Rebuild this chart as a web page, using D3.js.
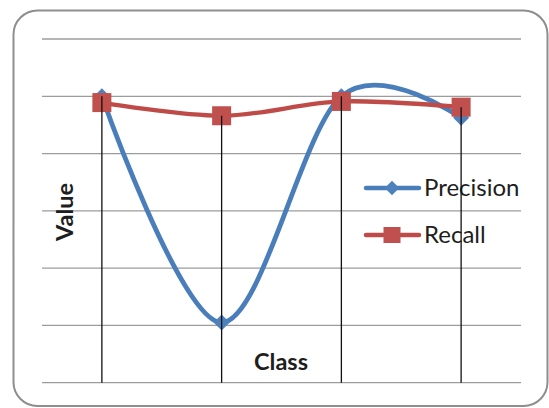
<!DOCTYPE html>
<html>
<head>
<meta charset="utf-8">
<script src="https://cdn.jsdelivr.net/npm/d3@7"></script>
<style>
  html, body { margin: 0; padding: 0; background: #ffffff; }
  svg { display: block; }
  text { font-family: Lato, "Open Sans", sans-serif; fill: #1e1e1e; }
</style>
</head>
<body>
<svg id="chart" width="549" height="408"></svg>
<script>
// ---- data ----
const categories = ["C1", "C2", "C3", "C4"];
const precision = [1.0, 0.21, 1.0, 0.925];
const recall = [0.978, 0.932, 0.982, 0.962];
const yTicks = [0, 0.2, 0.4, 0.6, 0.8, 1.0, 1.2];
const seriesNames = ["Precision", "Recall"];

const svg = d3.select("#chart");
const W = 549, H = 408;

// frame
svg.append("rect").attr("x", 0).attr("y", 0).attr("width", W).attr("height", H).attr("fill", "#fff");
svg.append("rect")
  .attr("x", 13.5).attr("y", 10.5).attr("width", 534).attr("height", 395.5)
  .attr("rx", 24).attr("ry", 24)
  .attr("fill", "#fff").attr("stroke", "#8e8e8e").attr("stroke-width", 2);

const plot = { left: 42, right: 521, top: 39, bottom: 382.7 };

const x = d3.scalePoint().domain(categories).range([plot.left, plot.right]).padding(0.5);
const y = d3.scaleLinear().domain([0, 1.2]).range([plot.bottom, plot.top]);

// gridlines
svg.append("g").selectAll("line").data(yTicks).join("line")
  .attr("x1", plot.left).attr("x2", plot.right)
  .attr("y1", d => y(d)).attr("y2", d => y(d))
  .attr("stroke", "#9c9c9c").attr("stroke-width", 1.3);

// axis titles
svg.append("text")
  .attr("transform", `translate(73,212) rotate(-90)`)
  .attr("text-anchor", "middle")
  .attr("font-weight", "bold").attr("font-size", 23.5)
  .text("Value");
svg.append("text")
  .attr("x", 281).attr("y", 370)
  .attr("text-anchor", "middle")
  .attr("font-weight", "bold").attr("font-size", 23.5)
  .text("Class");

const line = d3.line().curve(d3.curveCardinal.tension(0))
  .x((d, i) => x(categories[i])).y(d => y(d));

const blueLine = "#4A7EBB", blueFill = "#4F81BD";
const redLine = "#BE4B48", redFill = "#C0504D";

// Precision
svg.append("path").datum(precision).attr("d", line)
  .attr("fill", "none").attr("stroke", blueLine).attr("stroke-width", 4.8)
  .attr("stroke-linejoin", "round").attr("stroke-linecap", "round");
const diamondPath = d3.symbol().type(d3.symbolSquare).size(128)();
svg.append("g").selectAll("path").data(precision).join("path")
  .attr("d", diamondPath)
  .attr("transform", (d, i) => `translate(${x(categories[i])},${y(d)}) rotate(45)`)
  .attr("fill", blueFill);

// Recall
svg.append("path").datum(recall).attr("d", line)
  .attr("fill", "none").attr("stroke", redLine).attr("stroke-width", 4.3)
  .attr("stroke-linejoin", "round").attr("stroke-linecap", "round");
svg.append("g").selectAll("rect").data(recall).join("rect")
  .attr("x", (d, i) => x(categories[i]) - 9.5).attr("y", d => y(d) - 9.5)
  .attr("width", 19).attr("height", 19)
  .attr("fill", redFill);

// legend
const legend = svg.append("g");
const legendY = [188, 235];
const legendColors = [blueLine, redLine];
seriesNames.forEach((name, i) => {
  legend.append("line")
    .attr("x1", 366).attr("x2", 419).attr("y1", legendY[i]).attr("y2", legendY[i])
    .attr("stroke", legendColors[i]).attr("stroke-width", 4.5).attr("stroke-linecap", "round");
  if (i === 0) {
    legend.append("path")
      .attr("d", d3.symbol().type(d3.symbolSquare).size(105)())
      .attr("transform", `translate(392,${legendY[i]}) rotate(45)`)
      .attr("fill", blueFill);
  } else {
    legend.append("rect")
      .attr("x", 383.5).attr("y", legendY[i] - 8).attr("width", 17).attr("height", 16)
      .attr("fill", redFill);
  }
  legend.append("text")
    .attr("x", 424).attr("y", legendY[i] + 8)
    .attr("font-size", 24)
    .text(name);
});

// drop lines (from highest point to the category axis), drawn on top
svg.append("g").selectAll("line").data(categories).join("line")
  .attr("x1", d => x(d)).attr("x2", d => x(d))
  .attr("y1", (d, i) => y(Math.max(precision[i], recall[i])))
  .attr("y2", plot.bottom)
  .attr("stroke", "#111").attr("stroke-width", 1.3);
</script>
</body>
</html>
